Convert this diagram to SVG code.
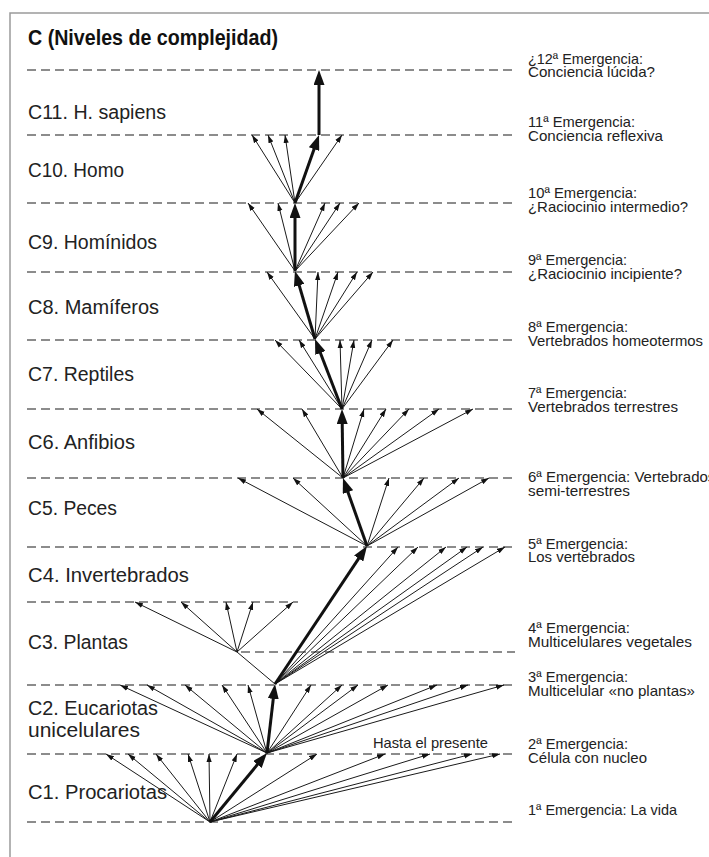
<svg xmlns="http://www.w3.org/2000/svg" width="709" height="857" viewBox="0 0 709 857">
<style>
.frame{stroke:#9a9a9a;stroke-width:1.5;fill:none}
.lvl{stroke:#8c8c8c;stroke-width:2;stroke-dasharray:9 5;fill:none}
.t{stroke:#1a1a1a;stroke-width:1;fill:none;marker-end:url(#ah)}
.p{stroke:#1a1a1a;stroke-width:1;fill:none}
.k{stroke:#111;stroke-width:3;fill:none;marker-end:url(#AH)}
.lab{font-family:"Liberation Sans",Arial,sans-serif;font-size:20px;fill:#222}
.em{font-family:"Liberation Sans",Arial,sans-serif;font-size:15px;fill:#222}
.title{font-family:"Liberation Sans",Arial,sans-serif;font-size:22px;font-weight:bold;fill:#111}
</style>
<defs>
<marker id="ah" viewBox="0 0 8 6" refX="8" refY="3" markerWidth="8" markerHeight="6" markerUnits="userSpaceOnUse" orient="auto"><path d="M0,0.4 L8,3 L0,5.6 z" fill="#111"/></marker>
<marker id="AH" viewBox="0 0 15 11" refX="5" refY="5.5" markerWidth="15" markerHeight="11" markerUnits="userSpaceOnUse" orient="auto"><path d="M0,0 L15,5.5 L0,11 z" fill="#111"/></marker>
</defs>
<rect width="709" height="857" fill="#fff"/>
<path class="frame" d="M709,13 H10 V857"/>
<g id="title"><text class="title" x="28" y="45" textLength="250" lengthAdjust="spacingAndGlyphs">C (Niveles de complejidad)</text></g>
<g id="levels">
<line class="lvl" x1="27" y1="70" x2="515" y2="70"/>
<line class="lvl" x1="27" y1="135" x2="515" y2="135"/>
<line class="lvl" x1="27" y1="203" x2="515" y2="203"/>
<line class="lvl" x1="27" y1="272" x2="515" y2="272"/>
<line class="lvl" x1="27" y1="340" x2="515" y2="340"/>
<line class="lvl" x1="27" y1="409" x2="515" y2="409"/>
<line class="lvl" x1="27" y1="478" x2="515" y2="478"/>
<line class="lvl" x1="27" y1="547" x2="515" y2="547"/>
<line class="lvl" x1="27" y1="602" x2="298" y2="602"/>
<line class="lvl" x1="241" y1="652" x2="515" y2="652"/>
<line class="lvl" x1="27" y1="685" x2="515" y2="685"/>
<line class="lvl" x1="27" y1="754" x2="515" y2="754"/>
<line class="lvl" x1="27" y1="822" x2="515" y2="822"/>
</g>
<g id="level-C11"><text class="lab" x="28" y="119" textLength="138" lengthAdjust="spacingAndGlyphs">C11. H. sapiens</text></g>
<g id="level-C10"><text class="lab" x="28" y="177" textLength="96" lengthAdjust="spacingAndGlyphs">C10. Homo</text></g>
<g id="level-C9"><text class="lab" x="28" y="249" textLength="129" lengthAdjust="spacingAndGlyphs">C9. Homínidos</text></g>
<g id="level-C8"><text class="lab" x="28" y="314" textLength="131" lengthAdjust="spacingAndGlyphs">C8. Mamíferos</text></g>
<g id="level-C7"><text class="lab" x="28" y="381" textLength="106" lengthAdjust="spacingAndGlyphs">C7. Reptiles</text></g>
<g id="level-C6"><text class="lab" x="28" y="449" textLength="107" lengthAdjust="spacingAndGlyphs">C6. Anfibios</text></g>
<g id="level-C5"><text class="lab" x="28" y="515" textLength="89" lengthAdjust="spacingAndGlyphs">C5. Peces</text></g>
<g id="level-C4"><text class="lab" x="28" y="582" textLength="161" lengthAdjust="spacingAndGlyphs">C4. Invertebrados</text></g>
<g id="level-C3"><text class="lab" x="28" y="649" textLength="100" lengthAdjust="spacingAndGlyphs">C3. Plantas</text></g>
<g id="level-C2"><text class="lab" x="28" y="715" textLength="130" lengthAdjust="spacingAndGlyphs">C2. Eucariotas</text><text class="lab" x="28" y="737" textLength="112" lengthAdjust="spacingAndGlyphs">unicelulares</text></g>
<g id="level-C1"><text class="lab" x="28" y="799" textLength="139" lengthAdjust="spacingAndGlyphs">C1. Procariotas</text></g>
<g id="em12"><text class="em" x="528" y="64" textLength="115" lengthAdjust="spacingAndGlyphs">¿12ª Emergencia:</text><text class="em" x="528" y="77" textLength="127" lengthAdjust="spacingAndGlyphs">Conciencia lúcida?</text></g>
<g id="em11"><text class="em" x="528" y="127" textLength="107" lengthAdjust="spacingAndGlyphs">11ª Emergencia:</text><text class="em" x="528" y="140.5" textLength="135" lengthAdjust="spacingAndGlyphs">Conciencia reflexiva</text></g>
<g id="em10"><text class="em" x="528" y="198" textLength="109" lengthAdjust="spacingAndGlyphs">10ª Emergencia:</text><text class="em" x="528" y="212" textLength="160" lengthAdjust="spacingAndGlyphs">¿Raciocinio intermedio?</text></g>
<g id="em9"><text class="em" x="528" y="265" textLength="99" lengthAdjust="spacingAndGlyphs">9ª Emergencia:</text><text class="em" x="528" y="279" textLength="154" lengthAdjust="spacingAndGlyphs">¿Raciocinio incipiente?</text></g>
<g id="em8"><text class="em" x="528" y="332" textLength="100" lengthAdjust="spacingAndGlyphs">8ª Emergencia:</text><text class="em" x="528" y="346" textLength="175" lengthAdjust="spacingAndGlyphs">Vertebrados homeotermos</text></g>
<g id="em7"><text class="em" x="528" y="398" textLength="99" lengthAdjust="spacingAndGlyphs">7ª Emergencia:</text><text class="em" x="528" y="412" textLength="150" lengthAdjust="spacingAndGlyphs">Vertebrados terrestres</text></g>
<g id="em6"><text class="em" x="528" y="482">6ª Emergencia: Vertebrados</text><text class="em" x="528" y="495.5" textLength="102" lengthAdjust="spacingAndGlyphs">semi-terrestres</text></g>
<g id="em5"><text class="em" x="528" y="548.5" textLength="100" lengthAdjust="spacingAndGlyphs">5ª Emergencia:</text><text class="em" x="528" y="562" textLength="107" lengthAdjust="spacingAndGlyphs">Los vertebrados</text></g>
<g id="em4"><text class="em" x="528" y="633" textLength="102" lengthAdjust="spacingAndGlyphs">4ª Emergencia:</text><text class="em" x="528" y="647" textLength="164" lengthAdjust="spacingAndGlyphs">Multicelulares vegetales</text></g>
<g id="em3"><text class="em" x="528" y="682" textLength="100" lengthAdjust="spacingAndGlyphs">3ª Emergencia:</text><text class="em" x="528" y="696" textLength="167" lengthAdjust="spacingAndGlyphs">Multicelular «no plantas»</text></g>
<g id="em2"><text class="em" x="528" y="748.5" textLength="100" lengthAdjust="spacingAndGlyphs">2ª Emergencia:</text><text class="em" x="528" y="762.5" textLength="119" lengthAdjust="spacingAndGlyphs">Célula con nucleo</text></g>
<g id="em1"><text class="em" x="528" y="815" textLength="149" lengthAdjust="spacingAndGlyphs">1ª Emergencia: La vida</text></g>
<g id="note"><text class="em" x="373" y="748" textLength="115" lengthAdjust="spacingAndGlyphs">Hasta el presente</text></g>
<g id="connectors">
<g id="fan-A">
<line class="t" x1="210" y1="822" x2="106" y2="754"/>
<line class="t" x1="210" y1="822" x2="128" y2="754"/>
<line class="t" x1="210" y1="822" x2="156" y2="754"/>
<line class="t" x1="210" y1="822" x2="188" y2="754"/>
<line class="t" x1="210" y1="822" x2="209" y2="754"/>
<line class="t" x1="210" y1="822" x2="237" y2="754"/>
<line class="t" x1="210" y1="822" x2="317" y2="754"/>
<line class="t" x1="210" y1="822" x2="385" y2="754"/>
<line class="t" x1="210" y1="822" x2="430" y2="754"/>
<line class="t" x1="210" y1="822" x2="472" y2="754"/>
<line class="t" x1="210" y1="822" x2="500" y2="754"/>
</g>
<g id="fan-B">
<line class="t" x1="267" y1="753" x2="120" y2="685"/>
<line class="t" x1="267" y1="753" x2="147" y2="685"/>
<line class="t" x1="267" y1="753" x2="185" y2="685"/>
<line class="t" x1="267" y1="753" x2="222" y2="685"/>
<line class="t" x1="267" y1="753" x2="248" y2="685"/>
<line class="t" x1="267" y1="753" x2="311" y2="685"/>
<line class="t" x1="267" y1="753" x2="342" y2="685"/>
<line class="t" x1="267" y1="753" x2="358" y2="685"/>
<line class="t" x1="267" y1="753" x2="388" y2="685"/>
<line class="t" x1="267" y1="753" x2="437" y2="685"/>
<line class="t" x1="267" y1="753" x2="468" y2="685"/>
<line class="t" x1="267" y1="753" x2="504" y2="685"/>
</g>
<g id="fan-C">
<line class="p" x1="275" y1="684" x2="237" y2="652"/>
<line class="t" x1="275" y1="684" x2="398" y2="547"/>
<line class="t" x1="275" y1="684" x2="418" y2="547"/>
<line class="t" x1="275" y1="684" x2="446" y2="547"/>
<line class="t" x1="275" y1="684" x2="467" y2="547"/>
<line class="t" x1="275" y1="684" x2="483" y2="547"/>
<line class="t" x1="275" y1="684" x2="505" y2="547"/>
</g>
<g id="fan-P">
<line class="t" x1="237" y1="652" x2="135" y2="602"/>
<line class="t" x1="237" y1="652" x2="181" y2="602"/>
<line class="t" x1="237" y1="652" x2="226" y2="602"/>
<line class="t" x1="237" y1="652" x2="253" y2="602"/>
<line class="t" x1="237" y1="652" x2="293" y2="602"/>
</g>
<g id="fan-D">
<line class="t" x1="367" y1="546" x2="238" y2="478"/>
<line class="t" x1="367" y1="546" x2="293" y2="478"/>
<line class="t" x1="367" y1="546" x2="389" y2="478"/>
<line class="t" x1="367" y1="546" x2="424" y2="478"/>
<line class="t" x1="367" y1="546" x2="459" y2="478"/>
<line class="t" x1="367" y1="546" x2="489" y2="478"/>
</g>
<g id="fan-E">
<line class="t" x1="343" y1="478" x2="257" y2="409"/>
<line class="t" x1="343" y1="478" x2="302" y2="409"/>
<line class="t" x1="343" y1="478" x2="364" y2="409"/>
<line class="t" x1="343" y1="478" x2="386" y2="409"/>
<line class="t" x1="343" y1="478" x2="409" y2="409"/>
<line class="t" x1="343" y1="478" x2="439" y2="409"/>
<line class="t" x1="343" y1="478" x2="473" y2="409"/>
</g>
<g id="fan-F">
<line class="t" x1="342" y1="409" x2="275" y2="340"/>
<line class="t" x1="342" y1="409" x2="299" y2="340"/>
<line class="t" x1="342" y1="409" x2="340" y2="340"/>
<line class="t" x1="342" y1="409" x2="354" y2="340"/>
<line class="t" x1="342" y1="409" x2="372" y2="340"/>
<line class="t" x1="342" y1="409" x2="393" y2="340"/>
</g>
<g id="fan-G">
<line class="t" x1="315" y1="339" x2="267" y2="272"/>
<line class="t" x1="315" y1="339" x2="318" y2="272"/>
<line class="t" x1="315" y1="339" x2="338" y2="272"/>
<line class="t" x1="315" y1="339" x2="357" y2="272"/>
<line class="t" x1="315" y1="339" x2="373" y2="272"/>
</g>
<g id="fan-H">
<line class="t" x1="295" y1="271" x2="248" y2="203"/>
<line class="t" x1="295" y1="271" x2="278" y2="203"/>
<line class="t" x1="295" y1="271" x2="325" y2="203"/>
<line class="t" x1="295" y1="271" x2="340" y2="203"/>
<line class="t" x1="295" y1="271" x2="359" y2="203"/>
</g>
<g id="fan-I">
<line class="t" x1="295" y1="203" x2="252" y2="135"/>
<line class="t" x1="295" y1="203" x2="268" y2="135"/>
<line class="t" x1="295" y1="203" x2="285" y2="135"/>
<line class="t" x1="295" y1="203" x2="342" y2="135"/>
</g>
<g id="main-path">
<line class="k" x1="210" y1="822" x2="260.6" y2="760.7"/>
<line class="k" x1="267" y1="753" x2="273.85" y2="693.9"/>
<line class="k" x1="275" y1="684" x2="361.45" y2="554.3"/>
<line class="k" x1="367" y1="546" x2="346.3" y2="487.4"/>
<line class="k" x1="343" y1="478" x2="342.15" y2="419"/>
<line class="k" x1="342" y1="409" x2="318.6" y2="348.3"/>
<line class="k" x1="315" y1="339" x2="297.8" y2="280.6"/>
<line class="k" x1="295" y1="271" x2="295" y2="213"/>
<line class="k" x1="295" y1="203" x2="315.7" y2="144.4"/>
<line class="k" x1="319" y1="135" x2="319" y2="80"/>
</g>
</g>
</svg>
